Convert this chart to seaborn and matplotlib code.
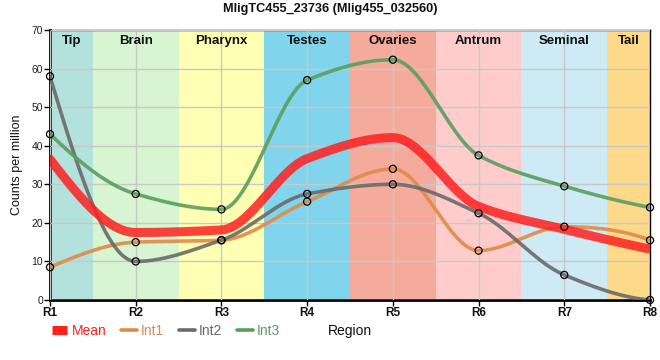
import numpy as np
import pandas as pd
import matplotlib
matplotlib.use("Agg")
import matplotlib.pyplot as plt
import seaborn as sns
from matplotlib.lines import Line2D

regions = ["R1", "R2", "R3", "R4", "R5", "R6", "R7", "R8"]
int1 = [8.5, 15.0, 15.5, 25.5, 34.0, 12.8, 19.0, 15.5]
int2 = [58.0, 10.0, 15.5, 27.5, 30.0, 22.5, 6.5, 0.0]
int3 = [43.0, 27.5, 23.5, 57.0, 62.3, 37.5, 29.5, 24.0]
mean = list(np.mean([int1, int2, int3], axis=0))

band_names = ["Tip", "Brain", "Pharynx", "Testes", "Ovaries", "Antrum", "Seminal", "Tail"]
band_edges = [0, 0.5, 1.5, 2.5, 3.5, 4.5, 5.5, 6.5, 7]
band_colors = ["#b3e2dd", "#d6f5d0", "#ffffb3", "#80d4ec", "#f5ab9c", "#ffcccc", "#cdeaf5", "#fdd98a"]

colors = {"Mean": "#ff2020", "Int1": "#e08a48", "Int2": "#6a6a6a", "Int3": "#5a9e5e"}


def pchip(x, y, xs):
    # monotone cubic, only used to draw a smooth line between the points
    x = np.asarray(x, float)
    y = np.asarray(y, float)
    h = np.diff(x)
    d = np.diff(y) / h
    n = len(x)
    m = np.zeros(n)
    for k in range(1, n - 1):
        if d[k - 1] * d[k] > 0:
            w1 = 2 * h[k] + h[k - 1]
            w2 = h[k] + 2 * h[k - 1]
            m[k] = (w1 + w2) / (w1 / d[k - 1] + w2 / d[k])
    s = ((2 * h[0] + h[1]) * d[0] - h[0] * d[1]) / (h[0] + h[1])
    if np.sign(s) != np.sign(d[0]):
        s = 0
    elif np.sign(d[0]) != np.sign(d[1]) and abs(s) > abs(3 * d[0]):
        s = 3 * d[0]
    m[0] = s
    s = ((2 * h[-1] + h[-2]) * d[-1] - h[-1] * d[-2]) / (h[-1] + h[-2])
    if np.sign(s) != np.sign(d[-1]):
        s = 0
    elif np.sign(d[-1]) != np.sign(d[-2]) and abs(s) > abs(3 * d[-1]):
        s = 3 * d[-1]
    m[-1] = s
    idx = np.clip(np.searchsorted(x, xs) - 1, 0, n - 2)
    t = (xs - x[idx]) / h[idx]
    h00 = 2 * t**3 - 3 * t**2 + 1
    h10 = t**3 - 2 * t**2 + t
    h01 = -2 * t**3 + 3 * t**2
    h11 = t**3 - t**2
    return h00 * y[idx] + h10 * h[idx] * m[idx] + h01 * y[idx + 1] + h11 * h[idx] * m[idx + 1]


sns.set_theme(style="white")
plt.rcParams["font.family"] = ["Liberation Sans", "DejaVu Sans"]

fig = plt.figure(figsize=(6.6, 3.6), dpi=100)
ax = fig.add_axes([50 / 660, 60 / 360, 600 / 660, 270 / 360])

pos = np.arange(len(regions))
for i, name in enumerate(band_names):
    ax.axvspan(band_edges[i], band_edges[i + 1], color=band_colors[i], lw=0, zorder=0)
    ax.text((band_edges[i] + band_edges[i + 1]) / 2, 68.8, name, ha="center", va="top",
            fontsize=9.5, fontweight="bold", color="#111111", zorder=5)

ax.grid(True, color="#c8c8c8", lw=1, zorder=1)
ax.set_axisbelow(False)

xs = np.linspace(0, len(regions) - 1, 400)
rows = []
for name, vals in (("Int1", int1), ("Int2", int2), ("Int3", int3), ("Mean", mean)):
    rows.append(pd.DataFrame({"x": xs, "y": pchip(pos, vals, xs), "series": name}))
curves = pd.concat(rows)

for name, lw, alpha in (("Int1", 2.6, 0.9), ("Int2", 2.6, 0.9), ("Int3", 2.6, 0.9), ("Mean", 6.5, 0.85)):
    sns.lineplot(data=curves[curves.series == name], x="x", y="y", color=colors[name],
                 lw=lw, alpha=alpha, ax=ax, legend=False, zorder=3)

pts = pd.DataFrame({"x": np.tile(pos, 3), "y": int1 + int2 + int3})
sns.scatterplot(data=pts, x="x", y="y", marker="o", s=26, facecolor="none",
                edgecolor="black", linewidth=0.9, ax=ax, zorder=4, clip_on=False)

ax.set_xlim(0, len(regions) - 1)
ax.set_ylim(0, 70)
ax.set_xticks(pos)
ax.set_xticklabels(regions, fontsize=8.5, fontweight="bold", color="#111111")
ax.set_yticks(range(0, 71, 10))
ax.set_yticklabels([str(v) for v in range(0, 71, 10)], fontsize=7.5, color="#222222")
ax.tick_params(axis="both", length=4, width=1, color="black", pad=1, bottom=True, left=True)
ax.set_xlabel("")
ax.set_ylabel("Counts per million", fontsize=9, color="#111111", labelpad=6)

for side in ("left", "bottom"):
    ax.spines[side].set_linewidth(2)
    ax.spines[side].set_color("black")
for side in ("top", "right"):
    ax.spines[side].set_linewidth(1)
    ax.spines[side].set_color("black")

fig.text(0.5, 1 - 9 / 360, "MligTC455_23736 (Mlig455_032560)", ha="center", va="center",
         fontsize=9.2, fontweight="bold", color="#111111")

handles = [Line2D([], [], color=colors["Mean"], lw=6.5, solid_capstyle="butt"),
           Line2D([], [], color=colors["Int1"], lw=2.6),
           Line2D([], [], color=colors["Int2"], lw=2.6),
           Line2D([], [], color=colors["Int3"], lw=2.6)]
leg = fig.legend(handles, ["Mean", "Int1", "Int2", "Int3"], loc="center left",
                 bbox_to_anchor=(52 / 660, 1 - 331 / 360), ncol=4, frameon=False, fontsize=10,
                 handlelength=1.1, handletextpad=0.3, columnspacing=1.1, borderaxespad=0,
                 borderpad=0)
for txt, name in zip(leg.get_texts(), ["Mean", "Int1", "Int2", "Int3"]):
    txt.set_color(colors[name])
fig.text(350 / 660, 1 - 331 / 360, "Region", ha="center", va="center", fontsize=10, color="#111111")

fig.savefig("out.png", dpi=100)
